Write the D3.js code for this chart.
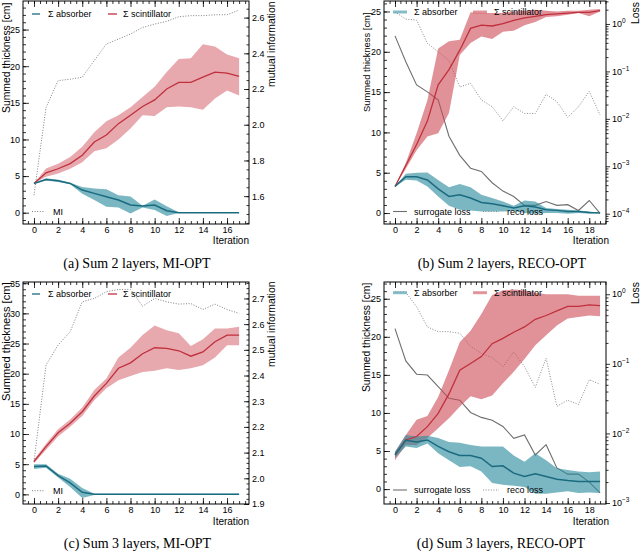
<!DOCTYPE html>
<html><head><meta charset="utf-8">
<script src="https://cdn.jsdelivr.net/npm/d3@7"></script>
<style>body{margin:0;background:#fff}svg{display:block}</style>
</head><body>
<svg id="c" width="640" height="551"></svg>
<script>
// ---------------- data ----------------
const iter17 = [0,1,2,3,4,5,6,7,8,9,10,11,12,13,14,15,16,17];
const iter19 = [0,1,2,3,4,5,6,7,8,9,10,11,12,13,14,15,16,17,18,19];
const xTicks16 = [0,2,4,6,8,10,12,14,16];
const xTicks18 = [0,2,4,6,8,10,12,14,16,18];

// (a) Sum 2 layers, MI-OPT
const aMI        = [1.605,2.097,2.247,2.255,2.266,2.36,2.452,2.48,2.508,2.545,2.564,2.579,2.605,2.611,2.611,2.616,2.616,2.642];
const aScintMean = [4.0,5.44,6.0,6.7,7.85,9.66,10.6,12.16,13.3,14.5,15.4,16.9,17.8,17.8,18.5,19.2,19.05,18.6];
const aScintUp   = [4.0,6.04,6.7,7.6,9.0,11.0,12.5,13.3,14.4,15.8,17.2,19.2,21.0,21.1,23.0,22.7,21.6,21.1];
const aScintLo   = [4.0,4.9,5.36,6.0,6.9,8.4,8.8,10.0,11.5,13.3,13.2,14.4,14.5,14.4,14.07,15.6,16.7,16.0];
const aAbsMean   = [4.0,4.54,4.36,4.0,3.09,2.64,2.18,1.73,1.05,0.91,1.05,0.27,0,0,0,0,0,0];
const aAbsUp     = [4.0,4.7,4.5,4.1,3.5,3.3,3.2,2.4,2.2,0.95,1.8,0.9,0.05,0.05,0.05,0.05,0.05,0.05];
const aAbsLo     = [4.0,4.4,4.2,3.9,2.6,1.73,0.8,0.7,-0.1,0.7,0.37,-0.45,-0.05,-0.05,-0.05,-0.05,-0.05,-0.05];

// (b) Sum 2 layers, RECO-OPT
const bSurr      = [0.56,0.16,0.052,0.037,0.025,0.0043,0.0017,0.00091,0.00078,0.00045,0.0003,0.00023,0.00015,0.00015,0.00018,0.00015,0.000155,0.000117,0.00019,0.000102];
const bReco      = [1.8,1.26,1.21,0.39,0.26,0.17,0.047,0.056,0.025,0.018,0.0091,0.018,0.013,0.013,0.033,0.023,0.0107,0.018,0.038,0.012];
const bScintMean = [3.3,5.9,8.5,11.4,15.9,17.8,20.2,22.9,23.3,23.2,23.5,23.9,24.2,24.4,24.6,24.7,24.8,24.9,24.9,25.1];
const bScintUp   = [3.3,6.2,9.9,14.0,20.4,21.3,21.5,24.9,24.8,24.8,24.8,25.0,25.1,25.2,25.1,25.0,25.1,25.1,25.2,25.3];
const bScintLo   = [3.3,5.5,7.8,9.5,9.9,12.4,19.6,21.1,21.9,21.6,22.5,22.6,23.3,23.7,24.3,24.4,24.6,24.8,24.4,25.0];
const bAbsMean   = [3.3,4.5,4.5,4.1,3.0,2.06,2.27,1.86,1.3,1.15,0.9,0.62,0.9,0.74,0.41,0.33,0.2,0.2,0.08,0.0];
const bAbsUp     = [3.3,4.87,5.0,5.03,4.1,3.2,3.6,3.2,2.27,1.86,1.44,0.9,1.57,1.44,0.62,0.5,0.41,0.33,0.2,0.05];
const bAbsLo     = [3.3,4.13,4.05,3.3,2.06,0.9,0.41,0.33,0.2,0.2,0.2,0.25,0.0,-0.08,0.0,0.0,-0.08,0.0,-0.08,0.0];

// (c) Sum 3 layers, MI-OPT
const cMI        = [2.065,2.441,2.519,2.57,2.687,2.70,2.726,2.735,2.735,2.67,2.70,2.687,2.678,2.68,2.657,2.678,2.657,2.642];
const cScintMean = [5.45,7.9,10.2,11.8,13.7,16.3,18.4,20.9,21.8,23.3,24.3,24.2,23.8,22.9,23.6,25.3,26.4,26.4];
const cScintUp   = [5.75,8.4,10.8,12.4,14.4,17.3,19.2,22.7,24.3,26.4,28.0,27.2,26.7,24.6,25.7,27.5,27.5,27.8];
const cScintLo   = [5.15,7.4,9.6,11.2,13.0,15.6,17.6,18.9,19.6,20.3,20.5,20.9,20.6,20.9,21.4,22.7,24.7,24.7];
const cAbsMean   = [4.6,4.7,3.1,1.9,0.33,0,0,0,0,0,0,0,0,0,0,0,0,0];
const cAbsUp     = [5.0,5.0,3.4,2.6,1.05,0.1,0.1,0.1,0.1,0.1,0.1,0.1,0.1,0.1,0.1,0.1,0.1,0.1];
const cAbsLo     = [4.2,4.4,2.8,1.2,-0.6,-0.1,-0.1,-0.1,-0.1,-0.1,-0.1,-0.1,-0.1,-0.1,-0.1,-0.1,-0.1,-0.1];

// (d) Sum 3 layers, RECO-OPT
const dSurr      = [0.32,0.11,0.071,0.069,0.047,0.032,0.030,0.020,0.017,0.0155,0.0126,0.0085,0.0095,0.0049,0.0069,0.0032,0.0026,0.0026,0.002,0.0014];
const dReco      = [1.07,1.07,0.66,0.34,0.29,0.29,0.275,0.178,0.141,0.123,0.091,0.148,0.091,0.046,0.12,0.0245,0.030,0.026,0.059,0.051];
const dScintMean = [4.5,6.45,6.9,8.2,9.95,12.5,15.6,16.5,17.4,19.1,19.8,20.6,21.3,22.3,22.8,23.4,24.0,24.0,24.2,24.1];
const dScintUp   = [4.9,7.1,9.1,9.6,12.1,15.6,19.3,20.8,23.0,25.5,26.1,26.2,26.1,25.8,25.6,25.6,25.6,25.4,25.4,25.4];
const dScintLo   = [3.8,5.8,5.8,6.7,8.0,9.3,10.8,12.2,11.8,12.3,13.9,15.4,17.1,18.9,20.2,21.5,22.4,22.6,22.8,22.7];
const dAbsMean   = [4.5,6.4,6.2,6.45,5.6,4.9,4.4,4.4,4.05,2.96,3.05,2.1,1.65,2.0,1.65,1.3,1.13,1.0,1.0,1.0];
const dAbsUp     = [4.9,7.1,6.9,7.0,6.7,6.2,6.1,5.8,5.6,5.6,5.6,4.4,3.6,4.7,3.8,2.75,2.5,2.3,2.2,2.3];
const dAbsLo     = [4.1,5.6,5.4,6.0,4.7,3.8,2.9,3.0,2.3,0.8,0.56,0.43,0.26,-0.6,-0.6,-0.45,-0.3,-0.5,-0.45,-0.5];

// ---------------- styling ----------------
const FONT = "'Liberation Sans', Arial, Helvetica, sans-serif";
const SERIF = "'Liberation Serif', 'Times New Roman', serif";
const RED = '#c0303c', RED_BAND = '#cd4a55';
const TEAL = '#1b6b80', TEAL_BAND = '#2a8a9e';

const panels = [
  {L:23, R:249, T:1, B:224, it:iter17, xDom:[-0.91,17.82], xTicks:xTicks16, xMinorMax:17.5,
   yDom:[-1.54,28.9], yTicks:[0,5,10,15,20,25], yMinorMax:28,
   log:false, rDom:[1.444,2.693], rTicks:[1.6,1.8,2.0,2.2,2.4,2.6], rMinor:0.05, rFmt:'.1f',
   mi:aMI, sM:aScintMean, sU:aScintUp, sL:aScintLo, aM:aAbsMean, aU:aAbsUp, aL:aAbsLo,
   ylab:{x:9.5, y:113, fs:10.4}, rlab:{text:'mutual information', x:274.5, y:87, fs:10.4},
   iterY:244, iterX:249, legTop:14, legBot:211.5, bandOp:0.48,
   cap:{text:'(a) Sum 2 layers, MI-OPT', x:137, y:267.5}},
  {L:384, R:606, T:1, B:224, it:iter19, xDom:[-1.02,19.55], xTicks:xTicks18, xMinorMax:19.5,
   yDom:[-1.36,26.3], yTicks:[0,5,10,15,20,25], yMinorMax:26,
   log:true, rDom:[Math.pow(10,-4.217), Math.pow(10,0.484)], rTicks:[1e-4,1e-3,1e-2,1e-1,1],
   surr:bSurr, reco:bReco, sM:bScintMean, sU:bScintUp, sL:bScintLo, aM:bAbsMean, aU:bAbsUp, aL:bAbsLo,
   ylab:{x:370, y:112, fs:9.4}, rlab:{text:'Loss', x:639, y:24, fs:10.4},
   iterY:244, iterX:609, legTop:12, legBot:211.5, bandOp:0.6,
   cap:{text:'(b) Sum 2 layers, RECO-OPT', x:502, y:267.5}},
  {L:23, R:249, T:282, B:504, it:iter17, xDom:[-0.91,17.82], xTicks:xTicks16, xMinorMax:17.5,
   yDom:[-1.6,35.2], yTicks:[0,5,10,15,20,25,30,35], yMinorMax:35,
   log:false, rDom:[1.9,2.764], rTicks:[1.9,2.0,2.1,2.2,2.3,2.4,2.5,2.6,2.7], rMinor:0.02, rFmt:'.1f',
   mi:cMI, sM:cScintMean, sU:cScintUp, sL:cScintLo, aM:cAbsMean, aU:cAbsUp, aL:cAbsLo,
   ylab:{x:9.5, y:401, fs:11.2}, rlab:{text:'mutual information', x:274.5, y:367, fs:10.4},
   iterY:525, iterX:249, legTop:294, legBot:490.7, bandOp:0.48,
   cap:{text:'(c) Sum 3 layers, MI-OPT', x:137.5, y:547.5}},
  {L:384, R:606, T:282, B:504, it:iter19, xDom:[-1.02,19.55], xTicks:xTicks18, xMinorMax:19.5,
   yDom:[-1.96,27.2], yTicks:[0,5,10,15,20,25], yMinorMax:27,
   log:true, rDom:[Math.pow(10,-3.014), Math.pow(10,0.176)], rTicks:[1e-3,1e-2,1e-1,1],
   surr:dSurr, reco:dReco, sM:dScintMean, sU:dScintUp, sL:dScintLo, aM:dAbsMean, aU:dAbsUp, aL:dAbsLo,
   ylab:{x:370, y:392, fs:10.3}, rlab:{text:'Loss', x:639, y:304, fs:10.4},
   iterY:525, iterX:609, legTop:292.7, legBot:490, bandOp:0.6,
   cap:{text:'(d) Sum 3 layers, RECO-OPT', x:501, y:547.5}}
];

const svg = d3.select('#c');

function styleAxis(a, fs) {
  a.attr('font-family', FONT).attr('font-size', fs);
  a.select('.domain').remove();
  a.selectAll('line').attr('stroke', '#000').attr('stroke-width', 0.8);
  return a;
}

panels.forEach((p, pi) => {
  const g = svg.append('g');
  const x = d3.scaleLinear().domain(p.xDom).range([p.L, p.R]);
  const y = d3.scaleLinear().domain(p.yDom).range([p.B, p.T]);
  const r = p.log ? d3.scaleLog().domain(p.rDom).range([p.B, p.T])
                  : d3.scaleLinear().domain(p.rDom).range([p.B, p.T]);

  const clipId = 'clip' + pi;
  svg.append('clipPath').attr('id', clipId).append('rect')
    .attr('x', p.L).attr('y', p.T).attr('width', p.R - p.L).attr('height', p.B - p.T);
  const cg = g.append('g').attr('clip-path', `url(#${clipId})`);

  const idx = p.it.map((d, i) => i);

  // secondary series
  if (p.log) {
    cg.append('path').datum(idx)
      .attr('d', d3.line().x(i => x(p.it[i])).y(i => r(p.surr[i])))
      .attr('fill', 'none').attr('stroke', '#6f6f6f').attr('stroke-width', 1.1);
    cg.append('path').datum(idx)
      .attr('d', d3.line().x(i => x(p.it[i])).y(i => r(p.reco[i])))
      .attr('fill', 'none').attr('stroke', '#8a8a8a').attr('stroke-width', 1)
      .attr('stroke-dasharray', '1,1.6');
  } else {
    cg.append('path').datum(idx)
      .attr('d', d3.line().x(i => x(p.it[i])).y(i => r(p.mi[i])))
      .attr('fill', 'none').attr('stroke', '#808080').attr('stroke-width', 1)
      .attr('stroke-dasharray', '1,1.6');
  }

  // bands
  cg.append('path').datum(idx)
    .attr('d', d3.area().x(i => x(p.it[i])).y0(i => y(p.sL[i])).y1(i => y(p.sU[i])))
    .attr('fill', RED_BAND).attr('fill-opacity', p.bandOp);
  cg.append('path').datum(idx)
    .attr('d', d3.area().x(i => x(p.it[i])).y0(i => y(p.aL[i])).y1(i => y(p.aU[i])))
    .attr('fill', TEAL_BAND).attr('fill-opacity', 0.62);
  // mean lines
  cg.append('path').datum(idx)
    .attr('d', d3.line().x(i => x(p.it[i])).y(i => y(p.sM[i])))
    .attr('fill', 'none').attr('stroke', RED).attr('stroke-width', 1.3);
  cg.append('path').datum(idx)
    .attr('d', d3.line().x(i => x(p.it[i])).y(i => y(p.aM[i])))
    .attr('fill', 'none').attr('stroke', TEAL).attr('stroke-width', 1.5);

  // axes
  const xMinor = d3.range(-0.5, p.xMinorMax + 0.01, 0.5);
  styleAxis(svg.append('g').attr('transform', `translate(0,${p.B})`)
    .call(d3.axisBottom(x).tickValues(p.xTicks).tickSize(-6).tickSizeOuter(0).tickPadding(3).tickFormat(d3.format('d'))), 9);
  styleAxis(svg.append('g').attr('transform', `translate(0,${p.B})`)
    .call(d3.axisBottom(x).tickValues(xMinor).tickSize(-3).tickSizeOuter(0).tickFormat('')), 9);
  styleAxis(svg.append('g').attr('transform', `translate(0,${p.T})`)
    .call(d3.axisTop(x).tickValues(p.xTicks).tickSize(-6).tickSizeOuter(0).tickFormat('')), 9);
  styleAxis(svg.append('g').attr('transform', `translate(0,${p.T})`)
    .call(d3.axisTop(x).tickValues(xMinor).tickSize(-3).tickSizeOuter(0).tickFormat('')), 9);

  const yMinor = d3.range(-1, p.yMinorMax + 0.01, 1);
  styleAxis(svg.append('g').attr('transform', `translate(${p.L},0)`)
    .call(d3.axisLeft(y).tickValues(p.yTicks).tickSize(-6).tickSizeOuter(0).tickPadding(3).tickFormat(d3.format('d'))), 9);
  styleAxis(svg.append('g').attr('transform', `translate(${p.L},0)`)
    .call(d3.axisLeft(y).tickValues(yMinor).tickSize(-3).tickSizeOuter(0).tickFormat('')), 9);

  if (p.log) {
    const lo = Math.floor(Math.log10(p.rDom[0])), hi = Math.ceil(Math.log10(p.rDom[1]));
    const rMinor = [];
    for (let k = lo; k <= hi; k++) for (let m = 2; m <= 9; m++) {
      const v = m * Math.pow(10, k);
      if (v > p.rDom[0] && v < p.rDom[1]) rMinor.push(v);
    }
    styleAxis(svg.append('g').attr('transform', `translate(${p.R},0)`)
      .call(d3.axisRight(r).tickValues(p.rTicks).tickSize(4).tickSizeOuter(0).tickFormat('')), 9);
    styleAxis(svg.append('g').attr('transform', `translate(${p.R},0)`)
      .call(d3.axisRight(r).tickValues(rMinor).tickSize(2.5).tickSizeOuter(0).tickFormat('')), 9);
    p.rTicks.forEach(v => {
      const e = Math.round(Math.log10(v));
      const t = svg.append('text').attr('x', p.R + 6).attr('y', r(v)).attr('dy', '0.35em')
        .attr('font-family', FONT).attr('font-size', 9).attr('fill', '#000');
      t.append('tspan').text('10');
      t.append('tspan').attr('dy', -4).attr('font-size', 6.5).text(e === 0 ? '0' : '\u2212' + Math.abs(e));
    });
  } else {
    const rMinor = d3.range(p.rDom[0] - (p.rDom[0] % p.rMinor), p.rDom[1], p.rMinor)
      .filter(v => v > p.rDom[0] && v < p.rDom[1]);
    styleAxis(svg.append('g').attr('transform', `translate(${p.R},0)`)
      .call(d3.axisRight(r).tickValues(p.rTicks).tickSize(-5).tickSizeOuter(0).tickPadding(3).tickFormat(d3.format(p.rFmt))), 9);
    styleAxis(svg.append('g').attr('transform', `translate(${p.R},0)`)
      .call(d3.axisRight(r).tickValues(rMinor).tickSize(-2.5).tickSizeOuter(0).tickFormat('')), 9);
  }

  // frame
  svg.append('rect').attr('x', p.L).attr('y', p.T).attr('width', p.R - p.L).attr('height', p.B - p.T)
    .attr('fill', 'none').attr('stroke', '#000').attr('stroke-width', 1);

  // axis titles
  svg.append('text').attr('transform', `translate(${p.ylab.x},${p.ylab.y}) rotate(-90)`)
    .attr('text-anchor', 'start').attr('font-family', FONT).attr('font-size', p.ylab.fs)
    .text('Summed thickness [cm]');
  svg.append('text').attr('transform', `translate(${p.rlab.x},${p.rlab.y}) rotate(-90)`)
    .attr('text-anchor', 'start').attr('font-family', FONT).attr('font-size', p.rlab.fs)
    .text(p.rlab.text);
  svg.append('text').attr('x', p.iterX).attr('y', p.iterY).attr('text-anchor', 'end')
    .attr('font-family', FONT).attr('font-size', 10).text('Iteration');

  // legend
  const lg = svg.append('g').attr('font-family', FONT).attr('font-size', 9);
  function legItem(x1, x2, yy, color, band, bandColor, textX, label, dash, width) {
    if (band) lg.append('rect').attr('x', x1).attr('y', yy - 1.5).attr('width', x2 - x1).attr('height', 3)
      .attr('fill', bandColor).attr('fill-opacity', 0.55);
    lg.append('line').attr('x1', x1).attr('x2', x2).attr('y1', yy).attr('y2', yy)
      .attr('stroke', color).attr('stroke-width', width || 1.3).attr('stroke-dasharray', dash || null);
    lg.append('text').attr('x', textX).attr('y', yy).attr('dy', '0.35em').text(label);
  }
  if (!p.log) {
    legItem(p.L + 9, p.L + 17, p.legTop, TEAL, false, null, p.L + 25, '\u03A3 absorber');
    legItem(p.L + 85, p.L + 94, p.legTop, RED, false, null, p.L + 100, '\u03A3 scintillator');
    legItem(p.L + 9, p.L + 22, p.legBot, '#808080', false, null, p.L + 30, 'MI', '1,1.6', 1);
  } else {
    legItem(p.L + 9, p.L + 23, p.legTop, '#7fb8c6', true, TEAL_BAND, p.L + 30, '\u03A3 absorber', null, 1);
    legItem(p.L + 89, p.L + 103, p.legTop, '#e08a92', true, RED_BAND, p.L + 110, '\u03A3 scintillator', null, 1);
    legItem(p.L + 9, p.L + 23, p.legBot, '#6f6f6f', false, null, p.L + 30, 'surrogate loss', null, 1.1);
    legItem(p.L + 99, p.L + 115, p.legBot, '#8a8a8a', false, null, p.L + 123, 'reco loss', '1,1.6', 1);
  }

  // caption
  svg.append('text').attr('x', p.cap.x).attr('y', p.cap.y).attr('text-anchor', 'middle')
    .attr('font-family', SERIF).attr('font-size', 14).text(p.cap.text);
});
</script>
</body></html>
